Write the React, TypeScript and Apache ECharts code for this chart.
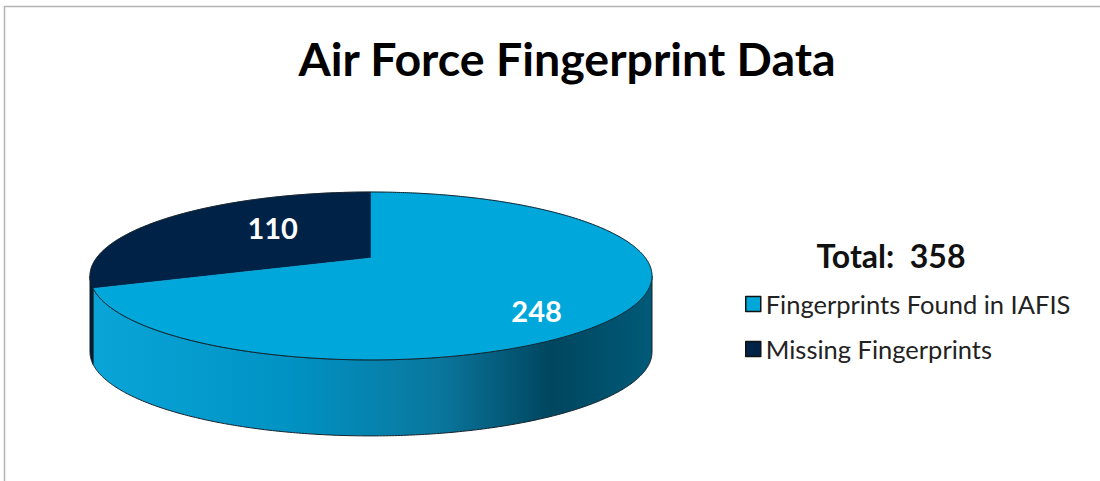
import React, { useEffect, useRef } from "react";
import * as echarts from "echarts";

const categories = ["Missing Fingerprints", "Fingerprints Found in IAFIS"];
const values = [110, 248];
const legendOrder = ["Fingerprints Found in IAFIS", "Missing Fingerprints"];
const titleText = "Air Force Fingerprint Data";
const totalLabel = "Total:";

const TOP_COLORS = ["#002246", "#00a7da"];
const SIDE_DARK = "#001b38";
const FONT = "Lato, 'Open Sans', sans-serif";

// projection of the tilted disc (perspective)
const CX = 371;
const CY = 258;
const A = 274.5;
const B = 80.1;
const S = 0.214;
const DEPTH = 76;
// label placement projection
const LX = 395;
const LY = 266;
const LA = 266;
const LB = 122;

function proj(deg: number, r: number): [number, number] {
  const t = (deg * Math.PI) / 180;
  const u = r * Math.cos(t);
  const v = r * Math.sin(t);
  const D = 1 + S * v;
  return [CX + (A * u) / D, CY - (B * v) / D];
}

function labelPos(deg: number, r: number): [number, number] {
  const t = (deg * Math.PI) / 180;
  const u = r * Math.cos(t);
  const v = r * Math.sin(t);
  const D = 1 + S * v;
  return [LX + (LA * u) / D, LY - (LB * v) / D];
}

function arc(a0: number, a1: number, dy = 0): number[][] {
  const n = Math.max(2, Math.ceil(Math.abs(a1 - a0) * 2));
  const pts: number[][] = [];
  for (let k = 0; k <= n; k++) {
    const a = a0 + ((a1 - a0) * k) / n;
    const p = proj(a, 1);
    pts.push([p[0], p[1] + dy]);
  }
  return pts;
}

export default function App() {
  const ref = useRef<HTMLDivElement>(null);
  useEffect(() => {
    document.body.style.margin = "0";
    if (!ref.current) return;
    const chart = echarts.init(ref.current, undefined, { renderer: "svg" });
    const total = values.reduce((s, v) => s + v, 0);
    const sil = (Math.asin(S) * 180) / Math.PI;
    const frontLo = 180 + sil;
    const frontHi = 360 - sil;
    const [lx0] = proj(frontLo, 1);
    const [lx1] = proj(frontHi, 1);

    const stops = [
      { offset: 0, color: "#0aa5d8" },
      { offset: 0.35, color: "#0093c4" },
      { offset: 0.62, color: "#0a779e" },
      { offset: 0.82, color: "#00465f" },
      { offset: 1, color: "#005a78" },
    ];

    const renderItem = (params: any, api: any) => {
      const i = params.dataIndex;
      let start = 90;
      for (let j = 0; j < i; j++) start += (values[j] / total) * 360;
      const sweep = (api.value(0) / total) * 360;
      const a0 = start;
      const a1 = start + sweep;
      const children: any[] = [];
      for (const k of [0, 360]) {
        const lo = Math.max(a0, frontLo + k);
        const hi = Math.min(a1, frontHi + k);
        if (hi > lo) {
          const top = arc(lo, hi, 0);
          const bottom = arc(hi, lo, DEPTH);
          const xs = top.map((p) => p[0]);
          const mn = Math.min(...xs);
          const w = Math.max(1, Math.max(...xs) - mn);
          children.push({
            type: "polygon",
            z2: 1,
            shape: { points: top.concat(bottom) },
            style: {
              fill:
                i === 1
                  ? new echarts.graphic.LinearGradient((lx0 - mn) / w, 0, (lx1 - mn) / w, 0, stops)
                  : SIDE_DARK,
              stroke: "#14222b",
              lineWidth: 1,
            },
          });
        }
      }
      const c = proj(0, 0);
      children.push({
        type: "polygon",
        z2: 10,
        shape: { points: [c].concat(arc(a0, a1, 0)) },
        style: { fill: TOP_COLORS[i], stroke: TOP_COLORS[i], lineWidth: 0.5 },
      });
      children.push({
        type: "polyline",
        z2: 12,
        shape: { points: arc(a0, a1, 0) },
        style: { fill: null, stroke: "#14222b", lineWidth: 1 },
      });
      const mid = (a0 + a1) / 2;
      const lp = labelPos(mid, 0.6);
      children.push({
        type: "text",
        z2: 30,
        x: lp[0],
        y: lp[1],
        style: {
          text: String(api.value(0)),
          fill: "#ffffff",
          font: `bold 29px ${FONT}`,
          align: "center",
          verticalAlign: "middle",
        },
      });
      return { type: "group", children };
    };

    chart.setOption({
      animation: false,
      title: {
        text: titleText,
        left: 562,
        top: 29,
        textAlign: "center",
        textStyle: { fontFamily: FONT, fontWeight: "bold", fontSize: 46.5, color: "#000" },
      },
      legend: {
        data: legendOrder,
        orient: "vertical",
        left: 740,
        top: 286,
        itemWidth: 15,
        itemHeight: 15,
        itemGap: 19,
        icon: "rect",
        itemStyle: { borderColor: "#111", borderWidth: 1.5 },
        textStyle: { fontFamily: FONT, fontSize: 25.5, color: "#222" },
        selectedMode: false,
      },
      graphic: [
        {
          type: "polyline",
          shape: { points: [[4.5, 600], [4.5, 6.5], [1200, 6.5]] },
          style: { fill: null, stroke: "#b4b4b4", lineWidth: 1.5 },
        },
        {
          type: "text",
          x: 891,
          y: 255,
          style: {
            text: `${totalLabel}  ${total}`,
            font: `bold 32px ${FONT}`,
            fill: "#111",
            align: "center",
            verticalAlign: "middle",
          },
        },
      ],
      series: [
        {
          type: "custom",
          coordinateSystem: "none",
          renderItem,
          data: values.map((v, i) => ({ name: categories[i], value: [v] })),
          silent: true,
        },
        {
          type: "pie",
          radius: [0, 0],
          center: [-100, -100],
          silent: true,
          label: { show: false },
          labelLine: { show: false },
          data: categories.map((n, i) => ({
            name: n,
            value: values[i],
            itemStyle: { color: TOP_COLORS[i] },
          })),
        },
      ],
    });
    return () => chart.dispose();
  }, []);
  return <div ref={ref} style={{ width: 1100, height: 481 }} />;
}
